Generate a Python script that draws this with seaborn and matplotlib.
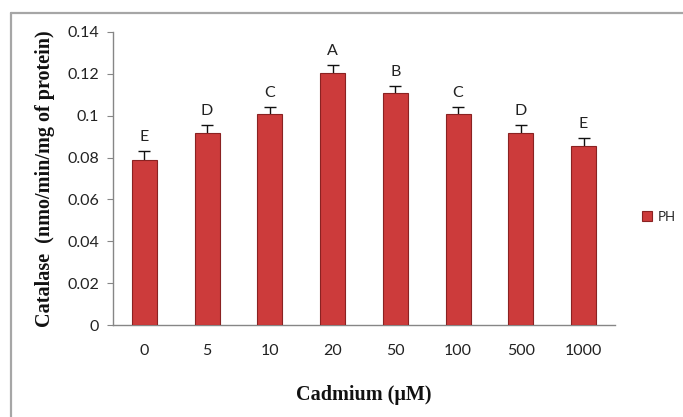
import pandas as pd
import seaborn as sns
import matplotlib.pyplot as plt
from matplotlib.lines import Line2D

sns.set_theme(style='white')
plt.rcParams['font.family'] = ['Lato', 'DejaVu Sans']

# data
conc = ['0', '5', '10', '20', '50', '100', '500', '1000']
catalase = [0.079, 0.0915, 0.1008, 0.1203, 0.1108, 0.1008, 0.0915, 0.0857]
err = [0.0042, 0.0040, 0.0035, 0.0040, 0.0035, 0.0035, 0.0040, 0.0035]
letters = ['E', 'D', 'C', 'A', 'B', 'C', 'D', 'E']

df = pd.DataFrame({'Cadmium': conc, 'Catalase': catalase, 'series': 'PH'})

fig = plt.figure(figsize=(6.83, 4.17), dpi=100)
ax = fig.add_axes([0.1654, 0.2206, 0.735, 0.7027])

# outer chart frame (only top/left visible in the crop)
fig.add_artist(Line2D([0.016, 0.016], [0, 0.969], color='#a6a6a6', lw=1.6))
fig.add_artist(Line2D([0.016, 1.0], [0.969, 0.969], color='#a6a6a6', lw=1.6))

sns.barplot(data=df, x='Cadmium', y='Catalase', hue='series', order=conc,
            palette=['#cc3b3b'], saturation=1, width=0.4, edgecolor='#8a2222',
            linewidth=0.8, errorbar=None, ax=ax, zorder=3)

xs = range(len(conc))
# full error bars drawn behind the bars so only the upper "T" shows
ax.errorbar(xs, catalase, yerr=err, fmt='none', ecolor='#111111',
            elinewidth=1, capsize=4.5, capthick=1, zorder=2)

for x, v, e, t in zip(xs, catalase, err, letters):
    ax.annotate(t, (x, v + e), xytext=(0, 5), textcoords='offset points',
                ha='center', va='bottom', fontsize=11.5, color='#222222')

ax.set_ylim(0, 0.14)
ax.set_yticks([0, 0.02, 0.04, 0.06, 0.08, 0.1, 0.12, 0.14])
ax.set_yticklabels(['0', '0.02', '0.04', '0.06', '0.08', '0.1', '0.12', '0.14'])
ax.set_xlim(-0.5, len(conc) - 0.5)
ax.tick_params(axis='y', length=4, width=0.8, color='#868686', labelsize=11.5,
               left=True, pad=6, labelcolor='#222222')
ax.tick_params(axis='x', length=0, labelsize=11.5, pad=14, labelcolor='#222222')

for s in ['top', 'right']:
    ax.spines[s].set_visible(False)
for s in ['left', 'bottom']:
    ax.spines[s].set_color('#868686')
    ax.spines[s].set_linewidth(1)

ax.set_ylabel('Catalase  (nmo/min/mg of protein)', fontsize=14.5, fontweight='bold',
              family='Liberation Serif', labelpad=9, color='#111111')
ax.set_xlabel('Cadmium (μM)', fontsize=14.5, fontweight='bold',
              family='Liberation Serif', labelpad=19, color='#111111')

leg = ax.legend(loc='center left', bbox_to_anchor=(1.03, 0.37), frameon=False,
                fontsize=9.5, handlelength=0.8, handleheight=0.8, handletextpad=0.4)

fig.savefig('out.png', dpi=100, facecolor='white')
